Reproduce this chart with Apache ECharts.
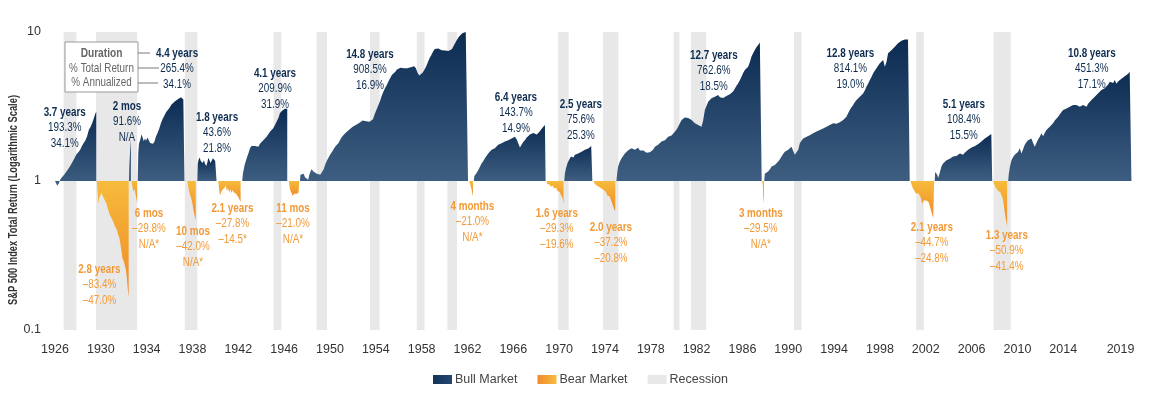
<!DOCTYPE html>
<html><head><meta charset="utf-8">
<script src="https://cdn.jsdelivr.net/npm/echarts@6/dist/echarts.min.js"></script>
<style>html,body{margin:0;padding:0;background:#fff}#c{width:1157px;height:394px}</style>
</head><body><div id="c"></div>
<script>
// ---------- DATA (growth of $1 from the start of each market) ----------
const bull1926 = [[1926.0,1.0],[1926.1,0.97],[1926.2,0.93],[1926.35,0.97],[1926.45,1.02],[1926.6,1.06],[1926.8,1.1],[1927.0,1.16],[1927.2,1.22],[1927.35,1.27],[1927.5,1.33],[1927.7,1.42],[1927.85,1.5],[1928.0,1.55],[1928.2,1.62],[1928.35,1.72],[1928.5,1.8],[1928.65,1.87],[1928.8,2.0],[1928.95,2.2],[1929.1,2.3],[1929.25,2.45],[1929.4,2.65],[1929.5,2.8],[1929.6,2.93]];
const bear1929 = [[1929.64,1.0],[1929.7,0.9],[1929.78,0.7],[1929.85,0.76],[1929.95,0.8],[1930.05,0.83],[1930.15,0.82],[1930.25,0.77],[1930.4,0.75],[1930.5,0.7],[1930.6,0.66],[1930.75,0.6],[1930.85,0.58],[1931.0,0.55],[1931.1,0.53],[1931.2,0.5],[1931.3,0.5],[1931.4,0.47],[1931.5,0.44],[1931.6,0.42],[1931.7,0.38],[1931.8,0.34],[1931.9,0.3],[1932.0,0.29],[1932.1,0.27],[1932.2,0.25],[1932.28,0.22],[1932.35,0.19],[1932.43,0.166]];
const bull1932 = [[1932.45,1.0],[1932.5,1.3],[1932.56,1.6],[1932.62,1.916]];
const bear1932 = [[1932.67,1.0],[1932.75,0.92],[1932.85,0.85],[1932.95,0.88],[1933.05,0.8],[1933.12,0.75],[1933.17,0.702]];
const bull1933 = [[1933.22,1.0],[1933.27,1.55],[1933.33,1.78],[1933.45,1.9],[1933.55,2.06],[1933.65,1.95],[1933.75,1.85],[1933.85,1.93],[1933.95,1.86],[1934.05,1.96],[1934.15,1.9],[1934.3,1.8],[1934.45,1.85],[1934.55,1.78],[1934.7,1.85],[1934.8,1.98],[1934.95,2.1],[1935.1,2.25],[1935.25,2.45],[1935.4,2.62],[1935.55,2.75],[1935.7,2.9],[1935.85,3.0],[1936.0,3.1],[1936.15,3.25],[1936.3,3.35],[1936.45,3.42],[1936.6,3.5],[1936.75,3.55],[1936.9,3.62],[1937.0,3.654],[1937.1,3.6],[1937.2,3.52],[1937.3,3.5]];
const bear1937 = [[1937.55,1.0],[1937.62,0.92],[1937.7,0.85],[1937.8,0.8],[1937.9,0.76],[1938.0,0.7],[1938.1,0.63],[1938.2,0.58],[1938.28,0.55]];
const bull1938 = [[1938.42,1.0],[1938.46,1.3],[1938.52,1.38],[1938.62,1.436],[1938.72,1.36],[1938.8,1.4],[1938.9,1.32],[1939.0,1.38],[1939.1,1.3],[1939.2,1.26],[1939.3,1.33],[1939.38,1.43],[1939.48,1.38],[1939.58,1.32],[1939.68,1.36],[1939.78,1.42],[1939.88,1.38],[1939.98,1.36],[1940.06,1.4],[1940.1,1.38]];
const bear1940 = [[1940.25,1.0],[1940.32,0.88],[1940.4,0.8],[1940.5,0.84],[1940.6,0.87],[1940.7,0.85],[1940.8,0.9],[1940.9,0.93],[1941.0,0.86],[1941.1,0.89],[1941.2,0.84],[1941.3,0.88],[1941.4,0.83],[1941.5,0.87],[1941.6,0.84],[1941.7,0.86],[1941.8,0.82],[1941.9,0.8],[1942.0,0.78],[1942.1,0.75],[1942.2,0.722]];
const bull1942 = [[1942.34,1.0],[1942.4,1.12],[1942.55,1.28],[1942.73,1.42],[1942.9,1.55],[1943.02,1.66],[1943.15,1.72],[1943.3,1.76],[1943.45,1.72],[1943.6,1.74],[1943.75,1.7],[1943.89,1.78],[1944.05,1.82],[1944.18,1.88],[1944.35,1.92],[1944.47,1.98],[1944.6,2.02],[1944.76,2.14],[1944.9,2.2],[1945.05,2.26],[1945.2,2.38],[1945.34,2.5],[1945.5,2.65],[1945.63,2.85],[1945.8,2.95],[1945.92,3.0],[1946.05,3.05],[1946.2,3.099],[1946.27,3.06]];
const bear1946 = [[1946.42,1.0],[1946.48,0.9],[1946.55,0.86],[1946.65,0.83],[1946.75,0.79],[1946.85,0.82],[1946.95,0.8],[1947.05,0.82],[1947.15,0.81],[1947.25,0.83],[1947.32,0.82]];
const bull1947 = [[1947.38,1.0],[1947.42,1.1],[1947.55,1.07],[1947.7,1.12],[1947.82,1.06],[1947.96,1.08],[1948.1,1.02],[1948.2,1.1],[1948.3,1.16],[1948.4,1.2],[1948.55,1.16],[1948.7,1.13],[1948.85,1.12],[1949.0,1.14],[1949.15,1.1],[1949.3,1.12],[1949.45,1.2],[1949.6,1.3],[1949.75,1.38],[1949.9,1.45],[1950.05,1.52],[1950.2,1.58],[1950.35,1.65],[1950.5,1.72],[1950.6,1.68],[1950.75,1.8],[1950.9,1.9],[1951.05,1.98],[1951.2,2.03],[1951.35,2.1],[1951.5,2.16],[1951.65,2.2],[1951.8,2.25],[1951.95,2.3],[1952.1,2.35],[1952.25,2.38],[1952.4,2.42],[1952.55,2.45],[1952.7,2.5],[1952.85,2.55],[1953.0,2.57],[1953.15,2.52],[1953.3,2.48],[1953.45,2.5],[1953.6,2.45],[1953.75,2.6],[1953.9,2.8],[1954.05,3.0],[1954.2,3.2],[1954.35,3.4],[1954.5,3.7],[1954.65,3.95],[1954.8,4.2],[1954.95,4.4],[1955.1,4.65],[1955.25,4.9],[1955.4,5.15],[1955.55,5.3],[1955.7,5.42],[1955.85,5.6],[1956.0,5.7],[1956.15,5.75],[1956.3,5.65],[1956.45,5.7],[1956.6,5.55],[1956.75,5.7],[1956.9,5.65],[1957.05,5.8],[1957.2,5.85],[1957.35,5.9],[1957.5,5.7],[1957.65,5.3],[1957.8,5.1],[1957.95,5.2],[1958.1,5.35],[1958.25,5.6],[1958.4,5.9],[1958.55,6.3],[1958.7,6.7],[1958.85,7.0],[1959.0,7.4],[1959.15,7.7],[1959.3,7.8],[1959.45,7.75],[1959.6,7.6],[1959.75,7.55],[1959.9,7.65],[1960.05,7.5],[1960.2,7.6],[1960.35,7.45],[1960.5,7.55],[1960.65,7.7],[1960.8,8.1],[1960.95,8.5],[1961.1,8.9],[1961.25,9.3],[1961.4,9.5],[1961.55,9.8],[1961.7,9.9],[1961.85,10.0],[1962.0,10.085],[1962.05,10.05]];
const bear1962 = [[1962.15,1.0],[1962.25,0.94],[1962.35,0.88],[1962.43,0.82],[1962.48,0.79]];
const bull1962 = [[1962.55,1.0],[1962.6,1.08],[1962.75,1.12],[1962.94,1.18],[1963.1,1.25],[1963.23,1.31],[1963.4,1.37],[1963.52,1.42],[1963.65,1.45],[1963.81,1.53],[1963.95,1.57],[1964.11,1.62],[1964.25,1.64],[1964.39,1.66],[1964.55,1.71],[1964.68,1.75],[1964.85,1.77],[1964.98,1.79],[1965.1,1.82],[1965.27,1.84],[1965.4,1.8],[1965.56,1.88],[1965.7,1.9],[1965.85,1.93],[1966.0,1.96],[1966.14,1.98],[1966.3,1.9],[1966.43,1.88],[1966.58,1.68],[1966.72,1.75],[1966.85,1.82],[1967.01,1.88],[1967.15,1.95],[1967.3,1.98],[1967.45,2.05],[1967.6,2.09],[1967.75,2.1],[1967.89,2.1],[1968.05,2.05],[1968.17,2.09],[1968.3,2.15],[1968.47,2.2],[1968.6,2.3],[1968.76,2.38],[1968.82,2.437]];
const bear1968 = [[1968.9,1.0],[1968.95,0.95],[1969.05,0.93],[1969.15,0.95],[1969.25,0.92],[1969.35,0.91],[1969.45,0.93],[1969.55,0.89],[1969.65,0.88],[1969.75,0.9],[1969.85,0.86],[1969.95,0.87],[1970.05,0.84],[1970.15,0.85],[1970.22,0.82],[1970.3,0.77],[1970.38,0.707]];
const bull1970 = [[1970.45,1.0],[1970.5,1.12],[1970.6,1.22],[1970.75,1.33],[1970.9,1.4],[1971.03,1.46],[1971.15,1.5],[1971.25,1.44],[1971.38,1.5],[1971.5,1.46],[1971.66,1.53],[1971.8,1.5],[1971.96,1.57],[1972.1,1.6],[1972.25,1.62],[1972.4,1.66],[1972.55,1.65],[1972.68,1.7],[1972.8,1.72],[1972.9,1.756]];
const bear1973 = [[1973.0,1.0],[1973.1,0.96],[1973.2,0.95],[1973.3,0.93],[1973.41,0.94],[1973.5,0.91],[1973.6,0.92],[1973.7,0.89],[1973.8,0.9],[1973.9,0.87],[1974.0,0.86],[1974.1,0.84],[1974.2,0.8],[1974.3,0.78],[1974.4,0.79],[1974.5,0.75],[1974.6,0.72],[1974.7,0.68],[1974.8,0.65],[1974.9,0.628]];
const bull1974 = [[1975.0,1.0],[1975.08,1.15],[1975.15,1.25],[1975.3,1.35],[1975.45,1.42],[1975.6,1.48],[1975.74,1.53],[1975.9,1.57],[1976.03,1.61],[1976.2,1.64],[1976.32,1.66],[1976.45,1.64],[1976.61,1.62],[1976.75,1.65],[1976.9,1.67],[1977.05,1.6],[1977.2,1.57],[1977.35,1.6],[1977.48,1.59],[1977.62,1.55],[1977.77,1.53],[1977.92,1.56],[1978.07,1.55],[1978.2,1.62],[1978.36,1.7],[1978.5,1.72],[1978.64,1.75],[1978.8,1.77],[1978.94,1.84],[1979.1,1.86],[1979.23,1.88],[1979.38,1.92],[1979.52,1.98],[1979.66,2.0],[1979.81,2.02],[1979.95,2.08],[1980.1,2.14],[1980.25,2.22],[1980.39,2.31],[1980.55,2.45],[1980.69,2.57],[1980.83,2.62],[1980.97,2.67],[1981.1,2.64],[1981.26,2.65],[1981.4,2.6],[1981.56,2.57],[1981.7,2.5],[1981.85,2.44],[1982.0,2.4],[1982.13,2.38],[1982.3,2.34],[1982.43,2.31],[1982.57,2.55],[1982.72,3.0],[1982.87,3.2],[1983.01,3.4],[1983.15,3.5],[1983.3,3.59],[1983.45,3.64],[1983.59,3.68],[1983.75,3.72],[1983.88,3.78],[1984.03,3.65],[1984.18,3.55],[1984.32,3.6],[1984.46,3.68],[1984.6,3.72],[1984.75,3.78],[1984.9,3.82],[1985.05,3.87],[1985.2,4.0],[1985.34,4.18],[1985.48,4.35],[1985.62,4.52],[1985.77,4.75],[1985.92,5.0],[1986.06,5.3],[1986.21,5.56],[1986.36,5.45],[1986.5,5.85],[1986.65,6.3],[1986.79,6.84],[1986.93,7.2],[1987.08,7.57],[1987.22,7.9],[1987.37,8.18],[1987.52,8.5],[1987.62,8.626],[1987.68,8.5]];
const bear1987 = [[1987.72,1.0],[1987.78,0.93],[1987.84,0.705],[1987.88,0.78]];
const bull1987 = [[1987.9,1.0],[1987.95,1.12],[1988.1,1.15],[1988.24,1.16],[1988.4,1.2],[1988.54,1.25],[1988.7,1.24],[1988.83,1.28],[1988.97,1.3],[1989.12,1.35],[1989.27,1.4],[1989.41,1.46],[1989.55,1.52],[1989.7,1.57],[1989.85,1.6],[1989.99,1.62],[1990.14,1.65],[1990.28,1.7],[1990.43,1.72],[1990.57,1.5],[1990.72,1.52],[1990.87,1.62],[1991.01,1.79],[1991.15,1.86],[1991.3,1.93],[1991.45,1.95],[1991.59,1.98],[1991.75,2.0],[1991.88,2.03],[1992.03,2.06],[1992.17,2.09],[1992.32,2.12],[1992.47,2.15],[1992.6,2.17],[1992.75,2.2],[1992.9,2.23],[1993.04,2.25],[1993.2,2.28],[1993.34,2.31],[1993.5,2.35],[1993.63,2.38],[1993.78,2.4],[1993.92,2.44],[1994.07,2.43],[1994.21,2.42],[1994.35,2.45],[1994.5,2.48],[1994.65,2.52],[1994.79,2.57],[1994.95,2.62],[1995.08,2.7],[1995.22,2.85],[1995.37,3.0],[1995.52,3.12],[1995.66,3.24],[1995.8,3.38],[1995.96,3.5],[1996.1,3.6],[1996.24,3.68],[1996.4,3.78],[1996.53,3.87],[1996.68,4.05],[1996.83,4.3],[1996.98,4.52],[1997.12,4.76],[1997.27,5.0],[1997.41,5.28],[1997.55,5.5],[1997.7,5.7],[1997.85,5.95],[1997.99,6.17],[1998.13,6.35],[1998.28,6.49],[1998.43,5.85],[1998.57,6.3],[1998.71,7.2],[1998.86,7.38],[1999.0,7.55],[1999.15,7.75],[1999.3,7.95],[1999.44,8.18],[1999.58,8.4],[1999.73,8.6],[1999.88,8.75],[2000.02,8.84],[2000.17,8.9],[2000.31,8.7],[2000.45,8.9],[2000.54,9.0],[2000.6,8.95]];
const bear2000 = [[2000.65,1.0],[2000.75,0.95],[2000.85,0.9],[2000.95,0.88],[2001.04,0.85],[2001.15,0.82],[2001.25,0.8],[2001.33,0.83],[2001.45,0.81],[2001.55,0.78],[2001.63,0.73],[2001.72,0.7],[2001.8,0.74],[2001.92,0.76],[2002.05,0.74],[2002.15,0.75],[2002.25,0.72],[2002.35,0.68],[2002.45,0.64],[2002.55,0.6],[2002.65,0.56],[2002.73,0.553]];
const bull2002 = [[2002.78,1.0],[2002.82,1.15],[2002.9,1.12],[2003.0,1.1],[2003.08,1.05],[2003.2,1.12],[2003.3,1.2],[2003.37,1.25],[2003.51,1.31],[2003.65,1.35],[2003.81,1.38],[2003.95,1.4],[2004.1,1.41],[2004.25,1.43],[2004.38,1.46],[2004.52,1.45],[2004.68,1.47],[2004.82,1.5],[2004.97,1.53],[2005.1,1.52],[2005.26,1.5],[2005.4,1.55],[2005.55,1.57],[2005.7,1.62],[2005.84,1.66],[2006.0,1.68],[2006.14,1.7],[2006.3,1.72],[2006.43,1.75],[2006.58,1.77],[2006.72,1.8],[2006.86,1.84],[2007.0,1.88],[2007.15,1.93],[2007.3,1.98],[2007.45,2.0],[2007.59,2.04],[2007.72,2.07],[2007.8,2.084]];
const bear2007 = [[2007.88,1.0],[2007.95,0.96],[2008.03,0.93],[2008.12,0.9],[2008.2,0.91],[2008.31,0.86],[2008.4,0.88],[2008.5,0.84],[2008.61,0.8],[2008.7,0.77],[2008.78,0.72],[2008.85,0.65],[2008.92,0.6],[2009.0,0.55],[2009.08,0.509],[2009.1,0.491]];
const bull2009 = [[2009.19,1.0],[2009.25,1.12],[2009.35,1.25],[2009.48,1.38],[2009.62,1.45],[2009.77,1.5],[2009.92,1.53],[2010.06,1.57],[2010.21,1.66],[2010.35,1.53],[2010.49,1.57],[2010.64,1.75],[2010.78,1.82],[2010.93,1.88],[2011.08,1.92],[2011.22,1.93],[2011.37,1.8],[2011.51,1.7],[2011.66,1.8],[2011.8,1.9],[2011.95,1.98],[2012.1,2.09],[2012.24,2.0],[2012.38,2.1],[2012.53,2.2],[2012.68,2.25],[2012.82,2.31],[2012.96,2.38],[2013.11,2.44],[2013.26,2.55],[2013.41,2.63],[2013.55,2.7],[2013.7,2.77],[2013.85,2.9],[2013.99,3.0],[2014.14,3.05],[2014.28,3.07],[2014.42,3.12],[2014.57,3.15],[2014.72,3.2],[2014.86,3.24],[2015.0,3.26],[2015.15,3.24],[2015.3,3.22],[2015.44,3.15],[2015.58,3.2],[2015.73,3.24],[2015.88,3.18],[2016.03,3.15],[2016.17,3.3],[2016.31,3.4],[2016.46,3.5],[2016.6,3.59],[2016.75,3.68],[2016.9,3.78],[2017.05,3.88],[2017.19,3.97],[2017.33,4.08],[2017.48,4.18],[2017.62,4.2],[2017.77,4.3],[2017.92,4.45],[2018.06,4.64],[2018.2,4.5],[2018.35,4.55],[2018.5,4.76],[2018.64,4.5],[2018.78,4.65],[2018.93,4.76],[2019.08,4.85],[2019.22,5.0],[2019.37,5.05],[2019.51,5.1],[2019.66,5.25],[2019.8,5.42],[2019.95,5.513]];

const bullMarkets = [bull1926, bull1932, bull1933, bull1938, bull1942, bull1947, bull1962, bull1970, bull1974, bull1987, bull2002, bull2009];
const bearMarkets = [bear1929, bear1932, bear1937, bear1940, bear1946, bear1962, bear1968, bear1973, bear1987, bear2000, bear2007];

// Annotation texts
const bullDuration  = ['3.7 years','2 mos','4.4 years','1.8 years','4.1 years','14.8 years','6.4 years','2.5 years','12.7 years','12.8 years','5.1 years','10.8 years'];
const bullTotal     = ['193.3%','91.6%','265.4%','43.6%','209.9%','908.5%','143.7%','75.6%','762.6%','814.1%','108.4%','451.3%'];
const bullAnnual    = ['34.1%','N/A','34.1%','21.8%','31.9%','16.9%','14.9%','25.3%','18.5%','19.0%','15.5%','17.1%'];
const bearDuration  = ['2.8 years','6 mos','10 mos','2.1 years','11 mos','4 months','1.6 years','2.0 years','3 months','2.1 years','1.3 years'];
const bearTotal     = ['–83.4%','–29.8%','–42.0%','–27.8%','–21.0%','–21.0%','–29.3%','–37.2%','–29.5%','–44.7%','–50.9%'];
const bearAnnual    = ['–47.0%','N/A*','N/A*','–14.5*','N/A*','N/A*','–19.6%','–20.8%','N/A*','–24.8%','–41.4%'];

// Recession periods (NBER)
const recessions = [[1926.75,1927.87],[1929.58,1933.17],[1937.33,1938.42],[1945.08,1945.75],[1948.83,1949.75],[1953.5,1954.33],[1957.58,1958.25],[1960.25,1961.08],[1969.92,1970.83],[1973.83,1975.17],[1980.0,1980.5],[1981.5,1982.83],[1990.5,1991.17],[2001.17,2001.83],[2007.92,2009.42]];

// Axis tick labels
const yearTicks = [1926,1930,1934,1938,1942,1946,1950,1954,1958,1962,1966,1970,1974,1978,1982,1986,1990,1994,1998,2002,2006,2010,2014,2019];

// ---------- LAYOUT (annotation anchors in data coordinates: [year, value] = top-centre of block) ----------
const bullLabelAt = [[1926.85,3.27],[1932.28,3.59],[1936.65,8.14],[1940.14,3.03],[1945.2,5.98],[1953.49,8.02],[1966.23,4.13],[1971.9,3.70],[1983.5,7.89],[1995.42,8.14],[2005.32,3.70],[2016.49,8.14]];
const bearLabelAt = [[1929.88,0.289],[1934.2,0.687],[1938.04,0.52],[1941.49,0.742],[1946.77,0.742],[1962.43,0.765],[1969.8,0.687],[1974.52,0.553],[1987.6,0.687],[2002.53,0.553],[2009.07,0.489]];

const FONT = "'Liberation Sans',Arial,sans-serif";
const NAVY = '#0d2c50';
const ORANGE = '#f29a38';
const SQUEEZE = 0.73;   // condensed look
const LINE_H = 15.5;

const bullFill = new echarts.graphic.LinearGradient(0,0,0,1,[{offset:0,color:'#0b2b52'},{offset:1,color:'#3e5e81'}]);
const bearFill = new echarts.graphic.LinearGradient(0,0,0,1,[{offset:0,color:'#f6bb3c'},{offset:1,color:'#f08a26'}]);

const chart = echarts.init(document.getElementById('c'), null, {renderer:'canvas'});

const series = [];
series.push({
  name:'Recession', type:'line', data:[], z:0, silent:true,
  itemStyle:{color:'#e8e8e8'},
  markArea:{silent:true, itemStyle:{color:'#e8e8e8'}, data: recessions.map(r=>[{xAxis:r[0]},{xAxis:r[1]}])}
});
bullMarkets.forEach(m=>series.push({
  name:'Bull Market', type:'line', data:m, showSymbol:false, symbol:'none', z:2, silent:true,
  itemStyle:{color:'#1d3d63'}, lineStyle:{width:0}, areaStyle:{origin:1, color:bullFill, opacity:1}
}));
bearMarkets.forEach(m=>series.push({
  name:'Bear Market', type:'line', data:m, showSymbol:false, symbol:'none', z:2, silent:true,
  itemStyle:{color:'#f3a030'}, lineStyle:{width:0}, areaStyle:{origin:1, color:bearFill, opacity:1}
}));

chart.setOption({
  animation:false,
  textStyle:{fontFamily:FONT},
  grid:{left:55, right:25, top:32, bottom:64, containLabel:false},
  xAxis:{type:'value', min:1926, max:2020,
    axisLine:{show:false}, axisTick:{show:false}, splitLine:{show:false},
    axisLabel:{customValues:yearTicks, color:'#333', fontSize:12.5, fontFamily:FONT, margin:13, formatter:(v)=>String(v)}},
  yAxis:{type:'log', logBase:10, min:0.1, max:10,
    axisLine:{show:false}, axisTick:{show:false}, splitLine:{show:false},
    axisLabel:{color:'#333', fontSize:12.5, fontFamily:FONT, margin:14, formatter:(v)=>String(+v.toPrecision(3))}},
  legend:{left:433, top:373, padding:0, itemWidth:19, itemHeight:9, itemGap:20, icon:'rect',
    textStyle:{color:'#444', fontSize:12.5, fontFamily:FONT, padding:[0,0,0,-2]},
    data:[
      {name:'Bull Market', itemStyle:{color:new echarts.graphic.LinearGradient(0,0,1,0,[{offset:0,color:'#143459'},{offset:1,color:'#244670'}])}},
      {name:'Bear Market', itemStyle:{color:new echarts.graphic.LinearGradient(0,0,1,0,[{offset:0,color:'#f08a2a'},{offset:1,color:'#f6bd40'}])}},
      {name:'Recession', itemStyle:{color:'#e8e8e8'}}
    ]},
  series
});

// ---------- annotations (positioned through the chart's own scales) ----------
function block(anchor, lines, color){
  const p = chart.convertToPixel({gridIndex:0}, anchor);
  return lines.map((t,i)=>({
    type:'text', x:p[0], y:p[1] + LINE_H/2 + i*LINE_H, scaleX:SQUEEZE, z:20, silent:true,
    style:{text:t, fill:color, align:'center', verticalAlign:'middle',
      font:(i===0?'bold ':'') + '13.5px ' + FONT}
  }));
}
const grey = '#7a7a7a';
let graphics = [
  {type:'text', x:13, y:200, rotation:Math.PI/2, scaleX:0.69, z:20, silent:true,
    style:{text:'S&P 500 Index Total Return (Logarithmic Scale)', font:`bold 13.5px ${FONT}`, fill:'#333', align:'center', verticalAlign:'middle'}},
  {type:'rect', shape:{x:65, y:42, width:73, height:50}, style:{fill:'#fff', stroke:'#9a9a9a', lineWidth:1}, z:10, silent:true},
  {type:'text', x:101.5, y:53, scaleX:0.78, z:11, silent:true, style:{text:'Duration', font:`bold 13px ${FONT}`, fill:'#666', align:'center', verticalAlign:'middle'}},
  {type:'text', x:101.5, y:68, scaleX:0.76, z:11, silent:true, style:{text:'% Total Return', font:`13px ${FONT}`, fill:'#666', align:'center', verticalAlign:'middle'}},
  {type:'text', x:101.5, y:82.5, scaleX:0.76, z:11, silent:true, style:{text:'% Annualized', font:`13px ${FONT}`, fill:'#666', align:'center', verticalAlign:'middle'}},
  {type:'line', shape:{x1:138, y1:53, x2:150, y2:53}, style:{stroke:grey, lineWidth:1}, z:10, silent:true},
  {type:'line', shape:{x1:138, y1:68, x2:159, y2:68}, style:{stroke:grey, lineWidth:1}, z:10, silent:true},
  {type:'line', shape:{x1:138, y1:83, x2:158, y2:83}, style:{stroke:grey, lineWidth:1}, z:10, silent:true}
];
bullLabelAt.forEach((a,i)=>{ graphics = graphics.concat(block(a,[bullDuration[i],bullTotal[i],bullAnnual[i]],NAVY)); });
bearLabelAt.forEach((a,i)=>{ graphics = graphics.concat(block(a,[bearDuration[i],bearTotal[i],bearAnnual[i]],ORANGE)); });
chart.setOption({graphic:graphics});
</script>
</body></html>
